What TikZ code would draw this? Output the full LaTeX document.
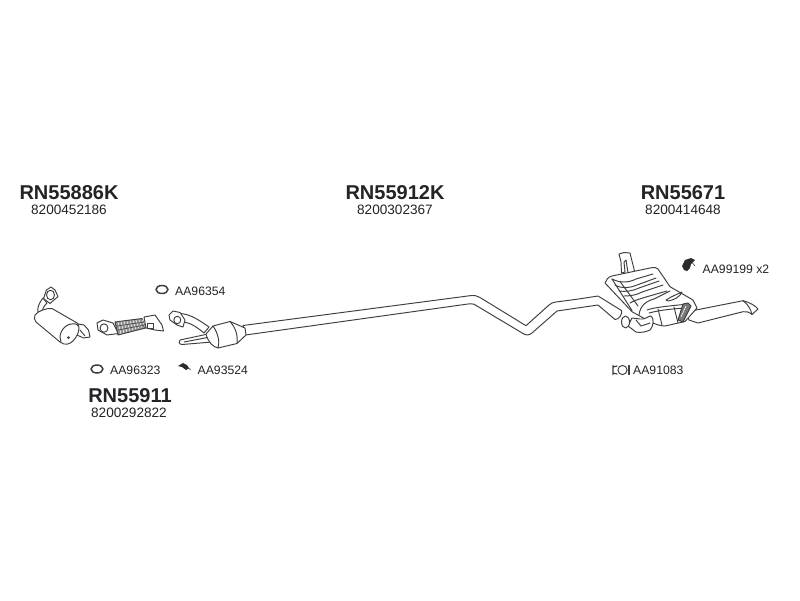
\documentclass[tikz,border=0pt]{standalone}
\usepackage{fontspec}
\setmainfont{Liberation Sans}
\definecolor{ink}{RGB}{62,62,62}
\definecolor{txt}{RGB}{35,35,40}
\tikzset{
  part/.style={draw=ink,line width=0.95pt,line join=round,line cap=round,fill=white},
  edge/.style={draw=ink,line width=0.95pt,line join=round,line cap=round},
  big/.style={inner sep=0pt,text=txt,font=\bfseries\fontsize{20}{22}\selectfont},
  code/.style={inner sep=0pt,text=txt,font=\fontsize{13.6}{15}\selectfont},
  small/.style={inner sep=0pt,anchor=west,text=txt,font=\fontsize{12.2}{14}\selectfont},
}
\begin{document}
\begin{tikzpicture}[x=1pt,y=-1pt]
\useasboundingbox (0,0) rectangle (800,600);
\fill[white] (0,0) rectangle (800,600);
% Labels
\node[big] (t1) at (69,193) {RN55886K};
\node[code] (c1) at (69,210) {8200452186};
\node[big] (t2) at (395,193) {RN55912K};
\node[code] (c2) at (395,210) {8200302367};
\node[big] (t3) at (683,193) {RN55671};
\node[code] (c3) at (683,210) {8200414648};
\node[big] (t4) at (130,396) {RN55911};
\node[code] (c4) at (129,413) {8200292822};
\node[small] (a1) at (175,291) {AA96354};
\node[small] (a2) at (110,370) {AA96323};
\node[small] (a3) at (197.5,370) {AA93524};
\node[small] (a4) at (633,370) {AA91083};
\node[small] (a5) at (702.5,269) {AA99199 x2};
% Small gaskets
\draw[part,line width=1.5pt] (162,289.5) ellipse (6 and 4);
\draw[part,line width=1.5pt] (97,369) ellipse (6 and 4);
% clamp AA93524
\fill[ink!70!black] (178,366) -- (183,363) -- (187,365) -- (189,368) -- (186,370) -- (182,367) -- cycle;
\draw[edge,line width=.6pt] (186,370) arc (200:340:2.5);
% clamp AA91083
\draw[part] (622.5,370) circle (4.6);
\draw[edge,line width=1.2pt] (613,365.5) -- (613,374.5) (613,367) -- (617,366) (613,373) -- (617,374);
\draw[edge,line width=1.2pt] (629,365.5) -- (629,374.5);
% hanger AA99199
\fill[ink!70!black] (682,266) -- (685,260) -- (691,258) -- (695,260) -- (691,264) -- (690,268) -- (687,271) -- (684,270) -- cycle;
\draw[edge,line width=.6pt] (691,261) -- (695,266);
% First catalytic converter RN55886K
\draw[part] (43,298) .. controls (39,303) and (37,308) .. (38,312) -- (42,313) .. controls (42,309) and (44,306) .. (47,303) -- cycle;
\draw[part] (46.5,290) -- (51,287) -- (55,290) -- (58,296.5) -- (50,303.5) -- (43.5,298.5) -- cycle;
\draw[part] (50.5,295) ellipse (4 and 4.8);
\draw[part] (78,324) -- (84,325) -- (88.5,330) -- (90,337) -- (83.5,338) -- (77,335) -- cycle;
\draw[edge] (80,330) -- (85,336);
\draw[part] (35,315) .. controls (38,311) and (46,308) .. (52,308.5) -- (78,323.5) .. controls (81,329) and (77,337) .. (73,341) .. controls (70,344) and (65,346) .. (60,342) -- (36,322) .. controls (34,320) and (34,317) .. (35,315) -- cycle;
\draw[edge] (61,342) .. controls (58,336) and (62,327) .. (69,324.5) .. controls (74,323) and (78,324) .. (78,326);
\fill[ink] (68.5,337.5) circle (1.5);
% Flex pipe
\draw[part] (97,323) -- (103,320) -- (113,323) -- (118.5,333.5) -- (107,335) -- (98,330) -- cycle;
\draw[part] (104,328) ellipse (4 and 4.2);
\draw[part,fill=ink!55] (115,322) -- (142,318.5) -- (145.5,328) -- (118,335) -- cycle;
\foreach \i in {0,...,8}{\draw[edge,draw=white,line width=.5pt] ({118+3*\i},{322-.3*\i}) -- ({121+3*\i},{334-.9*\i});}
\draw[edge,line width=.6pt] (117,326) -- (144,322) (118,330) -- (145,325);
\draw[part] (144,317) -- (155,315) -- (162,325) -- (163.5,331) -- (155,330) -- (146,328) -- cycle;
\draw[edge] (147,323) -- (153,323) -- (153,328) -- (147,328) -- cycle;
% Front pipe with second catalytic converter RN55912K
\draw[part] (180,313.5) .. controls (190,314) and (199,320) .. (209,327) -- (204,333) .. controls (198,328) and (191,323) .. (184,322) -- cycle;
\draw[part] (169,315) -- (173,311) -- (180,312.5) -- (185,320) -- (183,327) -- (177,325) -- (170,320) -- cycle;
\draw[part] (177.3,320) ellipse (3.5 and 3.7);
\draw[part] (180,340) -- (208,334) -- (212,342) -- (182,344.5) .. controls (179,344.5) and (178,341) .. (180,340) -- cycle;
\draw[edge] (184,342) -- (210,337);
\draw[part] (243,325.5) -- (470,295.7) .. controls (474,295.2) and (477,295.5) .. (480,297.5) -- (526,325.7) -- (549,305) .. controls (551,303) and (553,302.5) .. (556,302) -- (580,298.8) -- (598,296) -- (621.5,310.5) .. controls (623,313) and (619,320) .. (615,319.5) -- (598,305) -- (574,308.5) -- (557,311) -- (532,333) .. controls (529,335.5) and (526,335.5) .. (523,333.5) -- (474,304.2) .. controls (472,303.7) and (470,303.7) .. (468,304) -- (245.5,335) -- cycle;
\draw[part] (213,326) -- (230,321.5) -- (245,328) -- (246,335) -- (237,343.5) -- (218,348) .. controls (213,347) and (208,342) .. (206,334) -- cycle;
\draw[edge] (213,326) .. controls (218,333) and (220,342) .. (218,348);
\draw[edge] (230,321.5) .. controls (236,328) and (238,336) .. (237,343.5);
% Muffler RN55671
\draw[part] (621.5,273) -- (621,262) -- (619,254) -- (624,252.5) -- (630,253) -- (635,273) -- (628,273) -- (626,260) -- (624,262) -- (625,272) -- cycle;
\draw[part] (696,310) -- (743,300.7) .. controls (749,302) and (756,306) .. (758,309) -- (752,314.5) .. controls (749,312) and (746,311) .. (743,311.7) -- (698,323) -- (689,320) -- (686,313) -- cycle;
\draw[edge] (743,300.7) .. controls (748,304) and (751,310) .. (752,314.5);
\draw[part] (605,283) .. controls (606,280) and (608,277) .. (612,276) -- (650,268) .. controls (654,267) and (657,267.5) .. (658,269) -- (670,286.7) -- (693,300) -- (697,308) -- (685,321.5) -- (665,326) .. controls (660,326) and (655,324) .. (650,321.7) -- (632,311.7) -- cycle;
% ribs
\draw[edge] (612,279) .. controls (620,283) and (628,283) .. (636,279) -- (653,274);
\draw[edge] (615,285) .. controls (622,289) and (630,288) .. (637,285) -- (656,278);
\draw[edge] (619,291) .. controls (625,292) and (633,291) .. (639,288) -- (659,281);
\draw[edge] (624,296) .. controls (630,296) and (637,295) .. (642,292) -- (663,285);
\draw[edge] (630,303) .. controls (635,300) and (640,299) .. (646,297) -- (667,291);
\draw[edge] (612,279) -- (632,310.5);
\draw[edge] (620,281.5) -- (638,306);
% dent and rear half
\draw[edge] (639,315) .. controls (640,306) and (646,301) .. (654,299) -- (670,291);
\draw[edge] (666,300) .. controls (672,296) and (678,294) .. (682,292) .. controls (680,297) and (674,300) .. (668,301) -- cycle;
\draw[edge] (647,310) .. controls (655,307) and (670,306) .. (688,304);
\draw[edge] (649,313) .. controls (660,310) and (672,309) .. (684,308);
\draw[edge] (658,309) -- (662,325) (674,307) -- (678,323);
% tail bracket
\draw[part,fill=ink!70] (678,320) -- (683,304) -- (688,303) -- (691,306) -- (683,322) -- cycle;
\draw[edge,draw=white,line width=.6pt] (681,317) -- (686,306);
% Lower outlet
\draw[part] (632,318) -- (640,319) .. controls (645,320) and (648,316) .. (651,316) .. controls (654,318) and (654,326) .. (650,330) .. controls (646,332) and (640,333) .. (636,332) -- (628,326) -- cycle;
\draw[part] (625.5,322) ellipse (4 and 6);
\draw[edge] (636,320) -- (641,326) -- (650,323);
\end{tikzpicture}
\end{document}
